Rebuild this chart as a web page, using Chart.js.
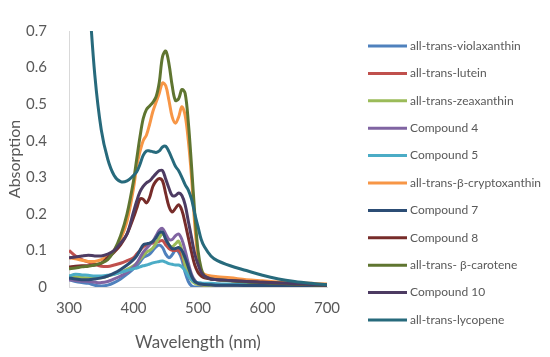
<!DOCTYPE html>
<html>
<head>
<meta charset="utf-8">
<script src="https://cdn.jsdelivr.net/npm/chart.js@4/dist/chart.umd.min.js"></script>
<style>
  html, body { margin: 0; padding: 0; background: #fff; }
  #wrap { width: 550px; height: 357px; position: relative; }
</style>
</head>
<body>
<div id="wrap"><canvas id="chart" width="550" height="357"></canvas></div>
<script>
// ── data ──
const wavelengths = [300,310,320,330,340,350,360,370,380,390,400,405,410,415,420,425,430,435,440,445,450,455,460,465,470,475,480,485,490,495,500,505,510,520,530,550,575,600,625,650,675,700];

const violaxanthin = [0.02,0.015,0.012,0.01,0.005,0.003,0.005,0.012,0.022,0.035,0.05,0.058,0.068,0.08,0.085,0.09,0.1,0.11,0.115,0.108,0.09,0.08,0.088,0.1,0.095,0.075,0.04,0.015,0.003,0,0,0,0,0,0,0,0,0,0,0,0,0];
const lutein       = [0.1,0.085,0.075,0.068,0.062,0.057,0.056,0.06,0.065,0.072,0.08,0.09,0.1,0.11,0.115,0.118,0.12,0.122,0.125,0.127,0.115,0.105,0.1,0.1,0.1,0.085,0.06,0.04,0.022,0.012,0.008,0.006,0.005,0.005,0.005,0.004,0.004,0.004,0.003,0.003,0.003,0.003];
const zeaxanthin   = [0.03,0.028,0.026,0.025,0.024,0.025,0.03,0.035,0.04,0.048,0.058,0.065,0.075,0.085,0.095,0.1,0.107,0.12,0.135,0.145,0.135,0.115,0.11,0.118,0.125,0.1,0.06,0.035,0.018,0.01,0.007,0.006,0.005,0.004,0.004,0.003,0.003,0.003,0.002,0.002,0.002,0.002];
const compound4    = [0.02,0.018,0.016,0.015,0.013,0.012,0.015,0.022,0.03,0.04,0.055,0.065,0.08,0.095,0.105,0.115,0.125,0.14,0.155,0.16,0.145,0.13,0.13,0.14,0.145,0.13,0.1,0.065,0.035,0.018,0.01,0.008,0.007,0.006,0.005,0.005,0.004,0.004,0.004,0.003,0.003,0.003];
const compound5    = [0.03,0.035,0.033,0.032,0.03,0.03,0.032,0.035,0.04,0.045,0.05,0.052,0.055,0.058,0.06,0.063,0.066,0.068,0.07,0.071,0.068,0.064,0.062,0.06,0.06,0.055,0.045,0.03,0.02,0.014,0.012,0.011,0.01,0.01,0.009,0.008,0.007,0.006,0.005,0.004,0.003,0.003];
const cryptoxanthin= [0.08,0.077,0.073,0.07,0.07,0.075,0.085,0.1,0.13,0.18,0.27,0.33,0.37,0.4,0.415,0.445,0.48,0.505,0.53,0.558,0.55,0.51,0.465,0.448,0.465,0.493,0.47,0.4,0.3,0.17,0.08,0.045,0.035,0.03,0.028,0.025,0.02,0.017,0.014,0.012,0.01,0.008];
const compound7    = [0.025,0.022,0.02,0.02,0.022,0.025,0.03,0.038,0.048,0.06,0.075,0.085,0.1,0.115,0.118,0.12,0.125,0.135,0.148,0.15,0.13,0.115,0.105,0.105,0.108,0.1,0.08,0.055,0.03,0.015,0.01,0.008,0.007,0.006,0.005,0.005,0.004,0.004,0.004,0.003,0.003,0.003];
const compound8    = [0.055,0.057,0.058,0.058,0.06,0.065,0.08,0.095,0.115,0.145,0.19,0.215,0.24,0.24,0.23,0.245,0.275,0.29,0.297,0.29,0.255,0.22,0.205,0.215,0.225,0.21,0.175,0.135,0.095,0.06,0.04,0.03,0.025,0.022,0.02,0.018,0.015,0.013,0.011,0.009,0.007,0.005];
const betaCarotene = [0.05,0.052,0.055,0.057,0.06,0.065,0.075,0.1,0.14,0.2,0.29,0.35,0.41,0.46,0.485,0.495,0.505,0.52,0.56,0.63,0.645,0.61,0.55,0.51,0.515,0.54,0.53,0.45,0.33,0.2,0.1,0.05,0.03,0.022,0.02,0.017,0.014,0.012,0.01,0.008,0.006,0.005];
const compound10   = [0.08,0.082,0.085,0.087,0.085,0.085,0.09,0.1,0.12,0.145,0.205,0.235,0.26,0.275,0.285,0.29,0.3,0.31,0.318,0.318,0.295,0.27,0.25,0.25,0.257,0.25,0.225,0.18,0.135,0.09,0.062,0.04,0.03,0.022,0.02,0.018,0.015,0.013,0.011,0.009,0.007,0.005];
const lycopene     = [1.6,1.3,1.05,0.82,0.58,0.43,0.35,0.305,0.288,0.29,0.305,0.315,0.335,0.36,0.372,0.372,0.37,0.368,0.372,0.383,0.385,0.37,0.35,0.33,0.318,0.3,0.28,0.265,0.24,0.2,0.165,0.13,0.11,0.085,0.072,0.058,0.045,0.032,0.022,0.015,0.01,0.006];

const seriesNames = ['all-trans-violaxanthin','all-trans-lutein','all-trans-zeaxanthin','Compound 4','Compound 5','all-trans-β-cryptoxanthin','Compound 7','Compound 8','all-trans- β-carotene','Compound 10','all-trans-lycopene'];
const seriesValues = [violaxanthin,lutein,zeaxanthin,compound4,compound5,cryptoxanthin,compound7,compound8,betaCarotene,compound10,lycopene];
const seriesColors = ['#4F81BD','#C0504D','#9BBB59','#8064A2','#4BACC6','#F79646','#2C4D75','#772C2A','#5F7530','#4D3B62','#276A7C'];

const xTicks = [300,400,500,600,700];
const yTicks = [0,0.1,0.2,0.3,0.4,0.5,0.6,0.7];

const FONT = 'Lato, "Liberation Sans", sans-serif';
const TEXT = '#595959';

// 图例：右侧竖排，短线 + 文字
const sideLegend = {
  id: 'sideLegend',
  afterDraw(chart) {
    const ctx = chart.ctx;
    ctx.save();
    ctx.font = '12px ' + FONT;
    ctx.textBaseline = 'middle';
    seriesNames.forEach((name, i) => {
      const y = 46 + i * 27.4;
      ctx.strokeStyle = seriesColors[i];
      ctx.lineWidth = 3;
      ctx.beginPath();
      ctx.moveTo(368, y);
      ctx.lineTo(407, y);
      ctx.stroke();
      ctx.fillStyle = TEXT;
      ctx.fillText(name, 410, y);
    });
    ctx.restore();
  }
};

const datasets = seriesNames.map((name, i) => ({
  label: name,
  data: wavelengths.map((w, j) => ({ x: w, y: seriesValues[i][j] })),
  borderColor: seriesColors[i],
  backgroundColor: seriesColors[i],
  borderWidth: 3,
  pointRadius: 0,
  tension: 0.35,
  fill: false,
  order: -i,
}));

new Chart(document.getElementById('chart'), {
  type: 'line',
  data: { datasets },
  plugins: [sideLegend],
  options: {
    responsive: false,
    animation: false,
    layout: { padding: { left: 0, top: 15, right: 223, bottom: 0 } },
    plugins: { legend: { display: false }, tooltip: { enabled: false } },
    scales: {
      x: {
        type: 'linear',
        min: 300, max: 700,
        grid: { display: false, drawTicks: false },
        border: { color: '#d9d9d9', width: 1 },
        afterBuildTicks: s => { s.ticks = xTicks.map(v => ({ value: v })); },
        ticks: { color: TEXT, font: { family: FONT, size: 15 }, padding: 12, maxRotation: 0 },
        title: { display: true, text: 'Wavelength (nm)', color: TEXT, font: { family: FONT, size: 17 }, padding: { top: 3 } },
        afterFit: s => { s.height = 70; },
      },
      y: {
        min: 0, max: 0.7,
        grid: { display: false, drawTicks: false },
        border: { color: '#d9d9d9', width: 1 },
        afterBuildTicks: s => { s.ticks = yTicks.map(v => ({ value: v })); },
        ticks: { color: TEXT, font: { family: FONT, size: 15 }, padding: 22 },
        title: { display: true, text: 'Absorption', color: TEXT, font: { family: FONT, size: 16 }, padding: { top: 5, bottom: 0 } },
        afterFit: s => { s.width = 69; },
      },
    },
  },
});
</script>
</body>
</html>
